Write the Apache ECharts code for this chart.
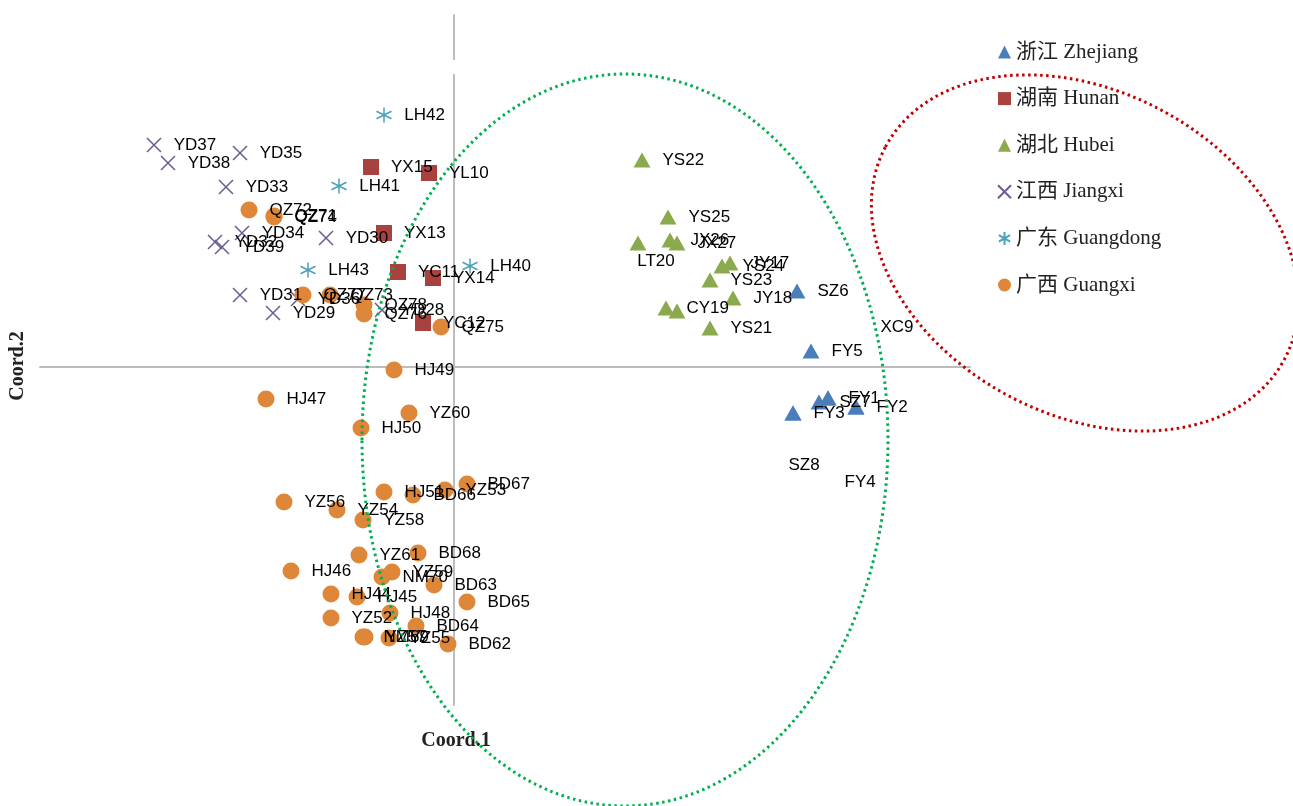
<!DOCTYPE html>
<html><head><meta charset="utf-8">
<script src="https://cdn.jsdelivr.net/npm/echarts@6/dist/echarts.min.js"></script>
<style>html,body{margin:0;padding:0;background:#fff}#c{width:1293px;height:806px}</style>
</head><body><div id="c"></div>
<script>
// ---------- data ----------
const legendNames = ['浙江 Zhejiang', '湖南 Hunan', '湖北 Hubei', '江西 Jiangxi', '广东 Guangdong', '广西 Guangxi'];

const zhejiangNames = ['FY1', 'FY2', 'FY3', 'FY4', 'FY5', 'SZ6', 'SZ7', 'SZ8', 'XC9'];
const zhejiangX = [3.74, 4.02, 3.39, 4.02, 3.57, 3.43, 3.65, 3.39, 3.74];
const zhejiangY = [-0.31, -0.40, -0.46, -0.40, 0.16, 0.76, -0.35, -0.46, -0.31];

const hunanNames = ['YL10', 'YC11', 'YC12', 'YX13', 'YX14', 'YX15'];
const hunanX = [-0.25, -0.56, -0.31, -0.70, -0.21, -0.83];
const hunanY = [1.94, 0.95, 0.44, 1.34, 0.89, 2.00];

const hubeiNames = ['JY16', 'JY17', 'JY18', 'CY19', 'LT20', 'YS21', 'YS22', 'YS23', 'YS24', 'YS25', 'JX26', 'JX27'];
const hubeiX = [2.23, 2.76, 2.79, 2.12, 1.84, 2.56, 1.88, 2.56, 2.68, 2.14, 2.16, 2.23];
const hubeiY = [0.56, 1.04, 0.69, 0.59, 1.24, 0.39, 2.07, 0.87, 1.01, 1.50, 1.27, 1.24];

const jiangxiNames = ['YD28', 'YD29', 'YD30', 'YD31', 'YD32', 'YD33', 'YD34', 'YD35', 'YD36', 'YD37', 'YD38', 'YD39'];
const jiangxiX = [-0.72, -1.81, -1.28, -2.14, -2.39, -2.28, -2.12, -2.14, -1.56, -3.00, -2.86, -2.32];
const jiangxiY = [0.57, 0.54, 1.29, 0.72, 1.25, 1.80, 1.34, 2.14, 0.68, 2.22, 2.04, 1.20];

const guangdongNames = ['LH40', 'LH41', 'LH42', 'LH43'];
const guangdongX = [0.16, -1.15, -0.70, -1.46];
const guangdongY = [1.01, 1.81, 2.52, 0.97];

const guangxiNames = ['HJ44', 'HJ45', 'HJ46', 'HJ47', 'HJ48', 'HJ49', 'HJ50', 'HJ51',
  'YZ52', 'YZ53', 'YZ54', 'YZ55', 'YZ56', 'YZ57', 'YZ58', 'YZ59', 'YZ60', 'YZ61',
  'BD62', 'BD63', 'BD64', 'BD65', 'BD66', 'BD67', 'BD68', 'NM69', 'NM70',
  'QZ71', 'QZ72', 'QZ73', 'QZ74', 'QZ75', 'QZ76', 'QZ77', 'QZ78'];
const guangxiX = [-1.23, -0.97, -1.63, -1.88, -0.64, -0.60, -0.93, -0.70,
  -1.23, -0.09, -1.17, -0.65, -1.70, -0.89, -0.91, -0.62, -0.45, -0.95,
  -0.06, -0.20, -0.38, 0.13, -0.41, 0.13, -0.36, -0.91, -0.72,
  -1.80, -2.05, -1.24, -1.80, -0.13, -0.90, -1.51, -0.90];
const guangxiY = [-2.27, -2.30, -2.04, -0.32, -2.46, -0.03, -0.61, -1.25,
  -2.51, -1.23, -1.43, -2.71, -1.35, -2.70, -1.53, -2.05, -0.46, -1.88,
  -2.77, -2.18, -2.59, -2.35, -1.28, -1.17, -1.86, -2.70, -2.10,
  1.51, 1.57, 0.72, 1.50, 0.40, 0.53, 0.72, 0.62];

// ---------- styles ----------
const labelTweaks = {
  FY4: { offset: [-32, 75] },
  SZ8: { offset: [-25, 52] },
  XC9: { offset: [32, -71] },
  LT20: { position: 'bottom', distance: 2, offset: [18, 0] },
  JY16: { show: false }
};
const labelFont = "'Liberation Sans', Arial, sans-serif";
const serif = "'Liberation Serif', 'Times New Roman', 'Noto Sans CJK SC', serif";

function pts(names, xs, ys) {
  return names.map((n, i) => {
    const d = { name: n, value: [xs[i], ys[i]] };
    if (labelTweaks[n]) d.label = labelTweaks[n];
    return d;
  });
}

const baseLabel = {
  show: true, position: 'right', distance: 12,
  formatter: p => p.name, color: '#000', fontSize: 17, fontFamily: labelFont
};

function mk(name, data, symbol, size, itemStyle) {
  return {
    type: 'scatter', name, data, symbol, symbolSize: size, symbolKeepAspect: false,
    itemStyle: Object.assign({ opacity: 1 }, itemStyle), label: baseLabel,
    emphasis: { disabled: true }, animation: false
  };
}

const xPath = 'path://M0,0L10,10M10,0L0,10';
const starPath = 'path://M5,0L5,10M0.67,2.5L9.33,7.5M0.67,7.5L9.33,2.5';

const series = [
  mk(legendNames[0], pts(zhejiangNames, zhejiangX, zhejiangY), 'triangle', [17, 15], { color: '#4A7EBB' }),
  mk(legendNames[1], pts(hunanNames, hunanX, hunanY), 'rect', 16, { color: '#A9423F' }),
  mk(legendNames[2], pts(hubeiNames, hubeiX, hubeiY), 'triangle', [17, 15], { color: '#8BAA4E' }),
  mk(legendNames[3], pts(jiangxiNames, jiangxiX, jiangxiY), xPath, 14, { color: 'rgba(0,0,0,0)', borderColor: '#6E5A93', borderWidth: 1.5 }),
  mk(legendNames[4], pts(guangdongNames, guangdongX, guangdongY), starPath, 15, { color: 'rgba(0,0,0,0)', borderColor: '#4AA1BA', borderWidth: 1.5 }),
  mk(legendNames[5], pts(guangxiNames, guangxiX, guangxiY), 'circle', 17, { color: '#DE8739' })
];

const chart = echarts.init(document.getElementById('c'), null, { renderer: 'canvas' });
chart.setOption({
  backgroundColor: '#fff',
  animation: false,
  grid: { left: 40, right: 323, top: 15, bottom: 101 },
  xAxis: {
    type: 'value', min: -4.14, max: 5.16,
    axisLine: { show: true, onZero: true, lineStyle: { color: '#BDBDBD', width: 2 } },
    axisTick: { show: false }, axisLabel: { show: false }, splitLine: { show: false }
  },
  yAxis: {
    type: 'value', min: -3.38, max: 3.52,
    axisLine: { show: true, onZero: true, lineStyle: { color: '#BDBDBD', width: 2 } },
    axisTick: { show: false }, axisLabel: { show: false }, splitLine: { show: false }
  },
  legend: {
    data: legendNames, orient: 'vertical', left: 992, top: 36,
    itemWidth: 13, itemHeight: 13, itemGap: 24.6,
    textStyle: { fontFamily: serif, fontSize: 21, color: '#222', lineHeight: 22 },
    selectedMode: false
  },
  series,
  graphic: [
    { type: 'rect', shape: { x: 449, y: 60, width: 10, height: 14 }, style: { fill: '#fff' }, z: 5 },
    { type: 'ellipse', x: 625, y: 440, shape: { cx: 0, cy: 0, rx: 263, ry: 366 },
      style: { fill: null, stroke: '#00B050', lineWidth: 3, lineDash: [2.5, 3.5] }, z: 20 },
    { type: 'ellipse', x: 1085, y: 253, rotation: -28 * Math.PI / 180, shape: { cx: 0, cy: 0, rx: 226, ry: 162 },
      style: { fill: null, stroke: '#C00000', lineWidth: 3, lineDash: [2.5, 3.5] }, z: 20 },
    { type: 'text', x: 456, y: 741, style: { text: 'Coord.1', font: "bold 20px 'Liberation Serif', serif", fill: '#222', align: 'center', verticalAlign: 'middle' }, z: 10 },
    { type: 'text', x: 18, y: 366, rotation: Math.PI / 2, style: { text: 'Coord.2', font: "bold 20px 'Liberation Serif', serif", fill: '#222', align: 'center', verticalAlign: 'middle' }, z: 10 }
  ]
});
</script>
</body></html>
